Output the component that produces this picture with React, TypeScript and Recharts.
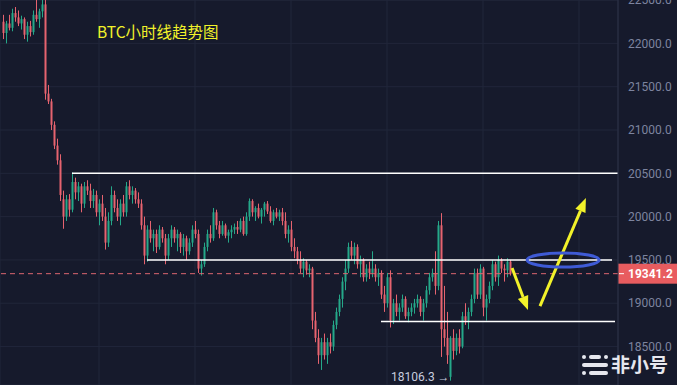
import { ComposedChart, Bar, XAxis, YAxis, CartesianGrid, ReferenceLine, ReferenceDot } from 'recharts';

const opens = [
  22250, 22120, 22230, 22180, 22350, 22300, 22230, 22280, 22100, 22200, 22130, 22330, 22280, 22370, 22450, 21420, 21330, 21060, 20820, 20650,
  20200, 20000, 20200, 20080, 20400, 20280, 20350, 20150, 20350, 20300, 20180, 20250, 20050, 20150, 20000, 19700, 19950, 20250, 20100, 20000,
  20150, 20050, 20350, 20250, 20300, 20200, 20150, 19900, 19550, 19850, 19750, 19800, 19650, 19850, 19750, 19550, 19750, 19850, 19750, 19800,
  19650, 19750, 19600, 19700, 19850, 19800, 19400, 19450, 19650, 19800, 19750, 20050, 19900, 19800, 19900, 19780, 19820, 19850, 19880, 19850,
  19950, 19800, 20000, 20180, 20050, 20100, 20000, 20080, 20150, 20060, 19950, 20050, 20000, 20050, 19950, 19800, 19850, 19650, 19600, 19500,
  19400, 19480, 19380, 19400, 18800, 18600, 18400, 18550, 18400, 18550, 18500, 18750, 18900, 19050, 19250, 19400, 19650, 19550, 19650, 19450,
  19500, 19300, 19400, 19350, 19400, 19300, 19350, 19100, 19000, 19300, 18800, 19000, 18900, 18950, 19050, 18850, 18900, 18950, 19000, 19050,
  18900, 19000, 19150, 19300, 19350, 19200, 19900, 18700, 18600, 18150, 18600, 18450, 18600, 18500, 18850, 18800, 18900, 19050, 19350, 19100,
  19400, 18950, 19050, 19200, 19450, 19300, 19500, 19400, 19380, 19480,
];
const highs = [
  22330, 22260, 22330, 22400, 22420, 22380, 22320, 22300, 22250, 22260, 22380, 22560, 22400, 22560, 22560, 21520, 21360, 21100, 20900, 20720,
  20300, 20250, 20260, 20510, 20450, 20400, 20380, 20400, 20420, 20380, 20320, 20300, 20200, 20250, 20100, 20050, 20350, 20300, 20200, 20200,
  20250, 20400, 20420, 20350, 20330, 20280, 20200, 20000, 19900, 19950, 19850, 19850, 19900, 19880, 19800, 19800, 19900, 19880, 19850, 19820,
  19800, 19780, 19750, 19900, 19950, 19850, 19500, 19700, 19850, 19900, 20100, 20080, 19950, 19950, 19920, 19850, 19900, 19920, 19950, 19980,
  20000, 20050, 20210, 20200, 20120, 20150, 20100, 20170, 20180, 20120, 20080, 20100, 20080, 20100, 20050, 19900, 19950, 19750, 19650, 19600,
  19520, 19500, 19450, 19420, 18900, 18700, 18600, 18650, 18600, 18650, 18800, 18950, 19100, 19300, 19500, 19700, 19720, 19700, 19680, 19550,
  19520, 19450, 19480, 19600, 19450, 19400, 19380, 19200, 19350, 19380, 19050, 19100, 19000, 19100, 19080, 18950, 19000, 19050, 19100, 19080,
  19050, 19200, 19350, 19400, 19600, 19950, 20040, 19200, 18900, 18620, 18700, 18650, 18700, 18900, 19000, 18950, 19100, 19400, 19400, 19450,
  19420, 19100, 19250, 19500, 19480, 19550, 19520, 19450, 19520, 19500,
];
const lows = [
  22050, 22000, 22150, 22140, 22250, 22200, 22160, 22050, 22020, 22080, 22100, 22250, 22180, 22300, 21350, 21300, 21000, 20780, 20600, 20180,
  19860, 19950, 20000, 20050, 20200, 20180, 20050, 20100, 20250, 20100, 20100, 20000, 19900, 19950, 19620, 19650, 19900, 20050, 19950, 19900,
  20000, 20000, 20200, 20150, 20150, 20100, 19850, 19450, 19480, 19700, 19600, 19580, 19620, 19700, 19450, 19500, 19650, 19700, 19600, 19580,
  19550, 19500, 19560, 19650, 19750, 19350, 19320, 19420, 19600, 19700, 19720, 19850, 19750, 19780, 19750, 19700, 19750, 19800, 19800, 19820,
  19780, 19780, 19950, 20000, 19950, 19980, 19920, 20000, 20030, 19930, 19900, 19980, 19950, 19900, 19750, 19700, 19600, 19520, 19450, 19350,
  19300, 19330, 19300, 18700, 18550, 18300, 18230, 18350, 18300, 18420, 18450, 18700, 18850, 18950, 19150, 19350, 19500, 19450, 19400, 19300,
  19250, 19250, 19280, 19300, 19250, 19200, 19050, 18900, 18950, 18720, 18760, 18850, 18800, 18900, 18820, 18780, 18850, 18880, 18950, 18850,
  18800, 18950, 19100, 19250, 19100, 19150, 18380, 18500, 18300, 18106.3, 18350, 18400, 18420, 18480, 18750, 18700, 18850, 19000, 19050, 19050,
  18850, 18800, 19000, 19150, 19250, 19200, 19350, 19250, 19300, 19320,
];
const closes = [
  22120, 22230, 22180, 22350, 22300, 22230, 22280, 22100, 22200, 22130, 22330, 22280, 22370, 22450, 21420, 21330, 21060, 20820, 20650, 20250,
  20000, 20200, 20080, 20400, 20280, 20350, 20150, 20350, 20300, 20180, 20250, 20050, 20150, 20000, 19700, 19950, 20250, 20100, 20000, 20150,
  20050, 20350, 20250, 20300, 20200, 20150, 19900, 19550, 19850, 19750, 19800, 19650, 19850, 19750, 19550, 19750, 19850, 19750, 19800, 19650,
  19750, 19600, 19700, 19850, 19800, 19400, 19450, 19650, 19800, 19750, 20050, 19900, 19800, 19900, 19780, 19820, 19850, 19880, 19850, 19950,
  19800, 20000, 20180, 20050, 20100, 20000, 20080, 20150, 20060, 19950, 20050, 20000, 20050, 19950, 19800, 19850, 19650, 19600, 19500, 19400,
  19480, 19380, 19400, 18800, 18600, 18400, 18550, 18400, 18550, 18500, 18750, 18900, 19050, 19250, 19400, 19650, 19550, 19650, 19450, 19500,
  19300, 19400, 19350, 19400, 19300, 19350, 19100, 19000, 19300, 18800, 19000, 18900, 18950, 19050, 18850, 18900, 18950, 19000, 19050, 18900,
  19000, 19150, 19300, 19350, 19200, 19900, 18700, 18600, 18400, 18600, 18450, 18600, 18500, 18850, 18800, 18900, 19050, 19350, 19100, 19400,
  18950, 19050, 19200, 19450, 19300, 19500, 19400, 19380, 19480, 19341.2,
];

const priceTicks = [18500, 19000, 19500, 20000, 20500, 21000, 21500, 22000, 22500];
const gridTicks = [32, 64, 96, 128, 160, 192];
const lastPrice = 19341.2;
const lowPrice = '18106.3';
const title = 'BTC小时线趋势图';

// horizontal support / resistance lines: price, first and last candle slot
const levelPrices = [20500, 19500, 18790];
const levelFrom = [23, 48, 126];
const levelTo = [205, 203, 204];

// hand-drawn arrows and the ellipse, in candle slot / price units
const arrowFrom = [[169.7, 19406], [179, 18967]];
const arrowTo = [[175, 18921], [194.3, 20215]];
const ringAt = [186.7, 19499];

const GREEN = '#25a889';
const RED = '#e6636f';
const YELLOW = '#f2f22a';
const BG = '#161a2c';

const data = opens.map((o, i) => ({
  i,
  o,
  h: highs[i],
  l: lows[i],
  c: closes[i],
  range: [lows[i], highs[i]],
}));

function Candle(props: any) {
  const { x, y, width, height, payload } = props;
  if (!payload) return null;
  const { o, h, l, c } = payload;
  const top = Math.min(y, y + height);
  const span = Math.abs(height);
  const k = h > l ? span / (h - l) : 0;
  const cx = Math.round(x + width / 2);
  const bTop = top + (h - Math.max(o, c)) * k;
  const bBot = top + (h - Math.min(o, c)) * k;
  const color = c >= o ? GREEN : RED;
  return (
    <g>
      <rect x={cx} y={top} width={1} height={Math.max(1, span)} fill={color} />
      <rect x={cx - 0.5} y={bTop} width={2} height={Math.max(1, bBot - bTop)} fill={color} />
    </g>
  );
}

function Arrow(props: any) {
  const { x1, y1, x2, y2 } = props;
  const ang = Math.atan2(y2 - y1, x2 - x1);
  const len = 14;
  const half = 5.5;
  const bx = x2 - len * Math.cos(ang);
  const by = y2 - len * Math.sin(ang);
  const px = -Math.sin(ang) * half;
  const py = Math.cos(ang) * half;
  return (
    <g>
      <line x1={x1} y1={y1} x2={bx} y2={by} stroke={YELLOW} strokeWidth={3} />
      <polygon points={`${x2},${y2} ${bx + px},${by + py} ${bx - px},${by - py}`} fill={YELLOW} />
    </g>
  );
}

function Ring(props: any) {
  const { cx, cy } = props;
  return <ellipse cx={cx} cy={cy} rx={36} ry={7} fill="none" stroke="#3f5bd6" strokeWidth={3} />;
}

function PriceTag(props: any) {
  const vb = props.viewBox || {};
  const x = vb.x + vb.width;
  const y = vb.y;
  return (
    <g>
      <rect x={x} y={y - 10} width={59} height={20} fill="#e85c5f" />
      <line x1={x + 1} x2={x + 6} y1={y} y2={y} stroke="#fff" strokeWidth={1} />
      <text x={x + 10} y={y + 4.5} fill="#fff" fontSize={12} fontWeight={700} fontFamily="Roboto">
        {lastPrice.toFixed(1)}
      </text>
    </g>
  );
}

function Logo() {
  return (
    <svg width={26} height={20} style={{ position: 'absolute', left: 582, top: 355 }}>
      <rect x={0} y={0} width={4} height={4} rx={2} fill="#e6e7ee" />
      <rect x={7} y={0} width={12} height={4} rx={2} fill="#e6e7ee" />
      <rect x={22} y={0} width={4} height={4} rx={2} fill="#e6e7ee" />
      <rect x={0} y={8} width={26} height={4} rx={2} fill="#e6e7ee" />
      <rect x={0} y={16} width={4} height={4} rx={2} fill="#e6e7ee" />
      <rect x={7} y={16} width={19} height={4} rx={2} fill="#e6e7ee" />
    </svg>
  );
}

export default function App() {
  return (
    <div style={{ position: 'relative', width: 677, height: 385, background: BG, overflow: 'hidden' }}>
      <style>{'body{margin:0;background:' + BG + '}'}</style>
      <ComposedChart width={677} height={385} data={data} margin={{ top: 0, right: 0, bottom: 0, left: 0 }}>
        <CartesianGrid stroke="#21263a" strokeWidth={1} />
        <XAxis dataKey="i" type="number" domain={[-1, 205]} ticks={gridTicks} hide />
        <YAxis
          orientation="right"
          width={59}
          type="number"
          domain={[18056, 22501]}
          allowDataOverflow
          ticks={priceTicks}
          interval={0}
          tickFormatter={(v: number) => v.toFixed(1)}
          tick={{ fontSize: 12, fill: '#7d849f', fontFamily: 'Roboto', textAnchor: 'start' }}
          tickLine={false}
          tickMargin={4}
          axisLine={{ stroke: '#2c3147' }}
        />
        <ReferenceLine
          y={lastPrice}
          stroke="#dc6670"
          strokeDasharray="5 4"
          strokeWidth={1}
          label={{ content: PriceTag }}
        />
        <Bar dataKey="range" barSize={2} shape={Candle} isAnimationActive={false} />
        {levelPrices.map((p, k) => (
          <ReferenceLine
            key={`lvl-${k}`}
            segment={[
              { x: levelFrom[k], y: p },
              { x: levelTo[k], y: p },
            ]}
            stroke="#ffffff"
            strokeWidth={1.5}
            ifOverflow="visible"
          />
        ))}
        <ReferenceDot x={ringAt[0]} y={ringAt[1]} shape={Ring} ifOverflow="visible" />
        {arrowFrom.map((a, k) => (
          <ReferenceLine
            key={`arr-${k}`}
            segment={[
              { x: a[0], y: a[1] },
              { x: arrowTo[k][0], y: arrowTo[k][1] },
            ]}
            shape={Arrow}
            ifOverflow="visible"
          />
        ))}
      </ComposedChart>
      <div
        style={{
          position: 'absolute',
          left: 97,
          top: 23,
          color: YELLOW,
          fontSize: 15.5,
          lineHeight: '17px',
          fontFamily: '"Noto Sans CJK SC", "Noto Sans", sans-serif',
          whiteSpace: 'nowrap',
        }}
      >
        {title}
      </div>
      <div
        style={{
          position: 'absolute',
          left: 391,
          top: 370,
          color: '#c7ccde',
          fontSize: 12,
          lineHeight: '14px',
          fontFamily: 'Roboto',
          whiteSpace: 'nowrap',
        }}
      >
        {lowPrice} →
      </div>
      <Logo />
      <div
        style={{
          position: 'absolute',
          left: 611,
          top: 354,
          color: '#e6e7ee',
          fontSize: 19,
          fontWeight: 700,
          lineHeight: '20px',
          fontFamily: '"Noto Sans CJK SC", sans-serif',
          whiteSpace: 'nowrap',
        }}
      >
        非小号
      </div>
    </div>
  );
}
